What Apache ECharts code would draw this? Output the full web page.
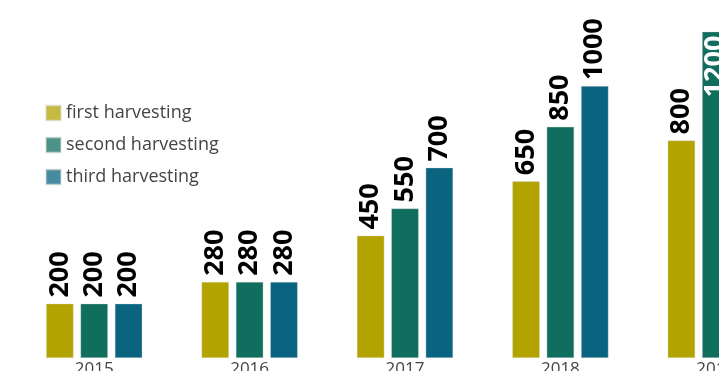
<!DOCTYPE html>
<html>
<head>
<meta charset="utf-8">
<script src="https://cdn.jsdelivr.net/npm/echarts@6/dist/echarts.min.js"></script>
<style>
html,body{margin:0;padding:0;background:#fff;}
#c{width:719px;height:371px;}
</style>
</head>
<body>
<div id="c"></div>
<script>
const years = ['2015', '2016', '2017', '2018', '2019'];
const seriesNames = ['first harvesting', 'second harvesting', 'third harvesting'];
const firstHarvesting = [200, 280, 450, 650, 800];
const secondHarvesting = [200, 280, 550, 850, 1200];
const thirdHarvesting = [200, 280, 700, 1000, 1400];
const colors = ['#b3a300', '#106e5e', '#0a6480'];

const chart = echarts.init(document.getElementById('c'));
const valueSets = [firstHarvesting, secondHarvesting, thirdHarvesting];
const FONT = '"Open Sans", sans-serif';

const series = valueSets.map((vals, i) => ({
  name: seriesNames[i],
  type: 'bar',
  data: vals.map(v => {
    const item = { value: v };
    if (v > 1150) {
      item.label = { position: 'insideTop', align: 'right', color: '#ffffff', distance: 4 };
    }
    return item;
  }),
  barWidth: 27.5,
  barGap: '25%',
  itemStyle: { color: colors[i], borderColor: 'rgba(220,220,220,0.6)', borderWidth: 0.6 },
  label: {
    show: true,
    position: 'top',
    rotate: 90,
    align: 'left',
    verticalAlign: 'middle',
    distance: 6,
    color: '#000',
    fontFamily: FONT,
    fontWeight: 'bold',
    fontSize: 27
  }
}));

chart.setOption({
  animation: false,
  backgroundColor: '#ffffff',
  legend: {
    orient: 'vertical',
    left: 40,
    top: 99,
    itemWidth: 15,
    itemHeight: 15,
    itemGap: 14,
    icon: 'rect',
    itemStyle: { opacity: 0.75 },
    textStyle: { fontFamily: FONT, fontSize: 18, color: '#444' },
    data: seriesNames
  },
  grid: { left: 16.5, top: 31.6, width: 777, height: 326.4, containLabel: false, outerBoundsMode: 'none' },
  xAxis: {
    type: 'category',
    data: years,
    axisLine: { show: false },
    axisTick: { show: false },
    axisLabel: { fontFamily: FONT, fontSize: 17, color: '#444', margin: 3 }
  },
  yAxis: {
    type: 'value',
    min: 0,
    max: 1200,
    show: false,
    splitLine: { show: false }
  },
  series: series
});
</script>
</body>
</html>
